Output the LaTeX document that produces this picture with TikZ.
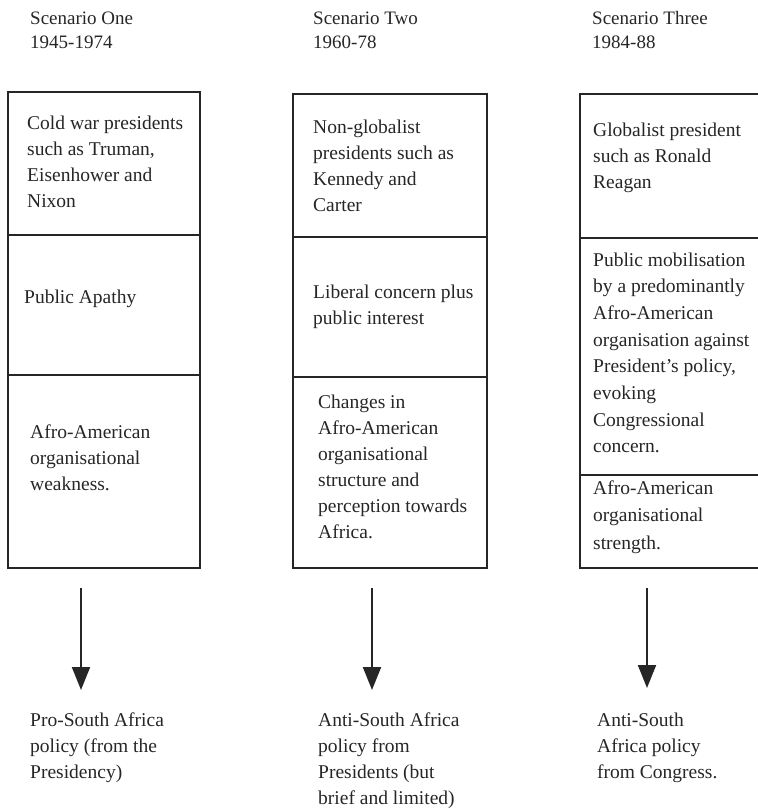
\documentclass[tikz,border=0pt]{standalone}
\usepackage{fontspec}
\setmainfont{Liberation Serif}
\usetikzlibrary{arrows.meta}
\definecolor{ink}{HTML}{262626}
\newcommand{\mylines}[1]{\begin{tabular}[t]{@{}l@{}}#1\end{tabular}}
\begin{document}
\begin{tikzpicture}[x=1pt,y=-1pt,
  cell/.style={draw=ink, line width=2pt, anchor=north west, inner sep=0pt, outer sep=0pt},
  txt/.style={anchor=base west, inner sep=0pt, text=ink, font=\fontsize{19.5}{26}\selectfont},
  hdr/.style={txt, font=\fontsize{19}{24}\selectfont},
  arr/.style={draw=ink, line width=2pt, -{Triangle[length=23pt,width=18pt]}}]
\useasboundingbox (0,0) rectangle (758,809);
\clip (0,0) rectangle (758,809);
% headers
\node[hdr] (h1) at (30,24) {\mylines{Scenario One\\1945-1974}};
\node[hdr] (h2) at (313,24) {\mylines{Scenario Two\\1960-78}};
\node[hdr] (h3) at (592,24) {\mylines{Scenario Three\\1984-88}};
% column 1 cells
\node[cell, minimum width=192, minimum height=143] (c11) at (8,92) {};
\node[cell, minimum width=192, minimum height=140] (c12) at (8,235) {};
\node[cell, minimum width=192, minimum height=193] (c13) at (8,375) {};
% column 2 cells
\node[cell, minimum width=194, minimum height=143] (c21) at (293,94) {};
\node[cell, minimum width=194, minimum height=140] (c22) at (293,237) {};
\node[cell, minimum width=194, minimum height=191] (c23) at (293,377) {};
% column 3 cells
\node[cell, minimum width=190, minimum height=144] (c31) at (580,94) {};
\node[cell, minimum width=190, minimum height=237] (c32) at (580,238) {};
\node[cell, minimum width=190, minimum height=93] (c33) at (580,475) {};
% cell texts
\node[txt] (t11) at (27,129) {\mylines{Cold war presidents\\such as Truman,\\Eisenhower and\\Nixon}};
\node[txt] (t12) at (24,303) {\mylines{Public Apathy}};
\node[txt] (t13) at (30,438) {\mylines{Afro-American\\organisational\\weakness.}};
\node[txt] (t21) at (313,133) {\mylines{Non-globalist\\presidents such as\\Kennedy and\\Carter}};
\node[txt] (t22) at (313,298) {\mylines{Liberal concern plus\\public interest}};
\node[txt] (t23) at (318,408) {\mylines{Changes in\\Afro-American\\organisational\\structure and\\perception towards\\Africa.}};
\node[txt] (t31) at (593,136) {\mylines{Globalist president\\such as Ronald\\Reagan}};
\node[txt, font=\fontsize{19.5}{26.7}\selectfont] (t32) at (593,266) {\mylines{Public mobilisation\\by a predominantly\\Afro-American\\organisation against\\President's policy,\\evoking\\Congressional\\concern.}};
\node[txt, font=\fontsize{19.5}{27.5}\selectfont] (t33) at (593,494) {\mylines{Afro-American\\organisational\\strength.}};
% outcomes
\node[txt] (r1) at (30,726) {\mylines{Pro-South Africa\\policy (from the\\Presidency)}};
\node[txt] (r2) at (318,726) {\mylines{Anti-South Africa\\policy from\\Presidents (but\\brief and limited)}};
\node[txt] (r3) at (597,726) {\mylines{Anti-South\\Africa policy\\from Congress.}};
% arrows
\coordinate (a1s) at (81,588); \coordinate (a1e) at (81,690);
\coordinate (a2s) at (372,588); \coordinate (a2e) at (372,690);
\coordinate (a3s) at (647,588); \coordinate (a3e) at (647,688);
\draw[arr] (a1s) -- (a1e);
\draw[arr] (a2s) -- (a2e);
\draw[arr] (a3s) -- (a3e);
\end{tikzpicture}
\end{document}
